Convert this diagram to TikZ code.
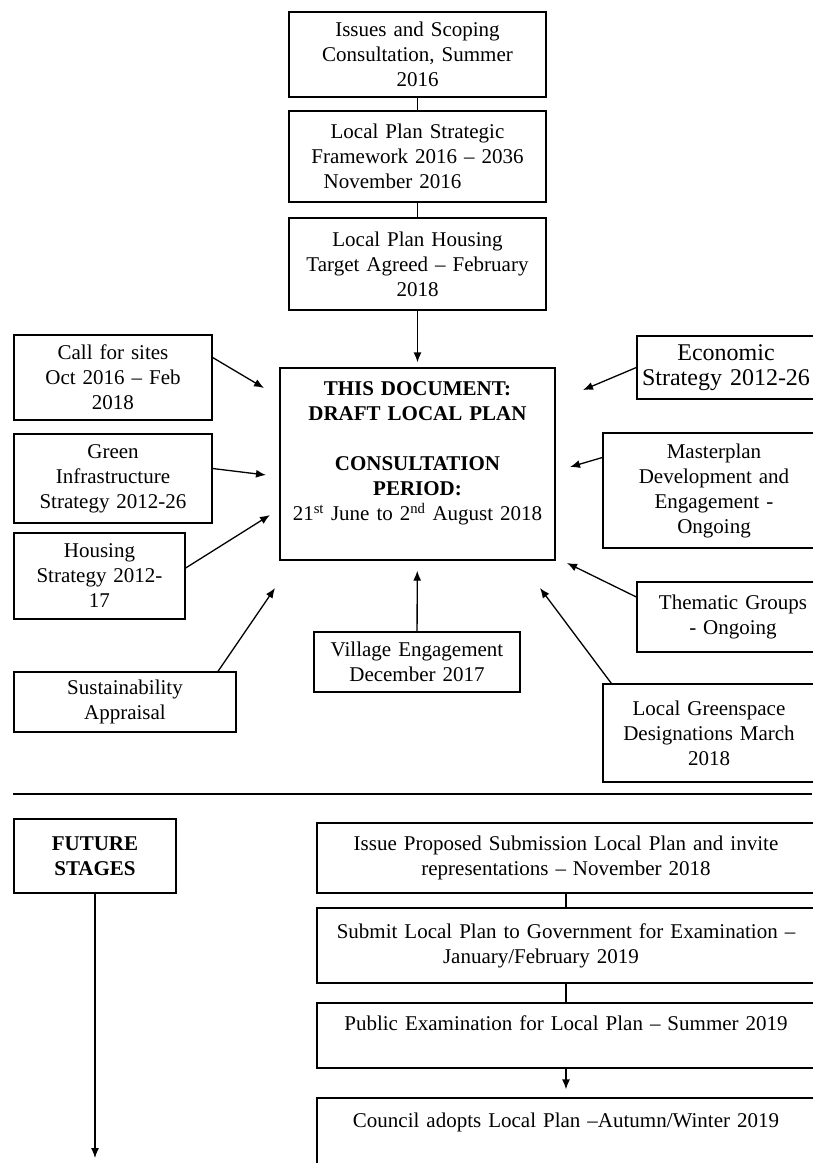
\documentclass[tikz,border=0pt]{standalone}
\usepackage{fontspec}
\setmainfont{Liberation Serif}
\usetikzlibrary{arrows.meta}
\tikzset{
  stagebox/.style = {draw, line width=1.3pt, align=center, inner sep=2pt,
                     font=\fontsize{21}{25}\selectfont},
  larrow/.style   = {line width=1.3pt, -{Latex[length=10pt,width=8pt]}},
  link/.style     = {line width=1.3pt}
}
\begin{document}
\begin{tikzpicture}[x=1pt, y=-1pt]
    \useasboundingbox (0,0) rectangle (812,1163);

    % stages so far
    \node[stagebox, text width=253pt, minimum height=85pt] (issues)    at (417.5,54.5)  {Issues and Scoping\\Consultation, Summer\\2016};
    \node[stagebox, text width=253pt, minimum height=91pt] (framework) at (417.5,156.5) {Local Plan Strategic\\Framework 2016 -- 2036\\November 2016\hspace{50pt}\null};
    \node[stagebox, text width=253pt, minimum height=92pt] (target)    at (417.5,264)   {Local Plan Housing\\Target Agreed -- February\\2018};
    \node[stagebox, text width=271pt, minimum height=192pt] (main)     at (417.5,464)   {\textbf{THIS DOCUMENT:}\\\textbf{DRAFT LOCAL PLAN}\\[25pt]\textbf{CONSULTATION}\\\textbf{PERIOD:}\\21\textsuperscript{st} June to 2\textsuperscript{nd} August 2018\\\mbox{}};

    % inputs on the left
    \node[stagebox, text width=194pt, minimum height=85pt] (sites)     at (113,377.5)   {Call for sites\\Oct 2016 -- Feb\\2018};
    \node[stagebox, text width=194pt, minimum height=89pt] (greeninf)  at (113,478.5)   {Green\\Infrastructure\\Strategy 2012-26};
    \node[stagebox, text width=167pt, minimum height=86pt] (housing)   at (99.5,576)    {Housing\\Strategy 2012-\\17};
    \node[stagebox, text width=218pt, minimum height=60pt] (sustain)   at (125,702)     {Sustainability\\Appraisal};
    \node[stagebox, text width=202pt, minimum height=60pt] (village)   at (417,662)     {Village Engagement\\December 2017};

    % inputs on the right
    \node[stagebox, text width=174pt, minimum height=63pt,
          font=\fontsize{24}{25}\selectfont]             (economic)  at (726,367.5)   {Economic\\Strategy 2012-26};
    \node[stagebox, text width=218pt, minimum height=115pt] (master)   at (714,490.5)   {Masterplan\\Development and\\Engagement -\\Ongoing};
    \node[stagebox, text width=188pt, minimum height=70pt] (thematic)  at (733,617)     {Thematic Groups\\- Ongoing};
    \node[stagebox, text width=208pt, minimum height=98pt] (greenspace) at (709,733)    {Local Greenspace\\Designations March\\2018};

    \coordinate (sitesTip)      at (264,388);
    \coordinate (greeninfTip)   at (266,475);
    \coordinate (housingTip)    at (270,515);
    \coordinate (sustainTip)    at (275,588);
    \coordinate (economicTip)   at (583,390);
    \coordinate (masterTip)     at (570,467);
    \coordinate (thematicTip)   at (567,563);
    \coordinate (greenspaceTip) at (540,588);

    \draw[link] (issues) -- (framework);
    \draw[link] (framework) -- (target);
    \draw[larrow, shorten >=5pt] (target) -- (main);
    \draw[larrow, shorten >=10pt] (village) -- (main);

    \draw[larrow] ([yshift=20pt]sites.east)       -- (sitesTip);
    \draw[larrow] ([yshift=10pt]greeninf.east)    -- (greeninfTip);
    \draw[larrow] ([yshift=8pt]housing.east)      -- (housingTip);
    \draw[larrow] ([xshift=93pt]sustain.north)    -- (sustainTip);
    \draw[larrow] (economic.west)                 -- (economicTip);
    \draw[larrow] ([yshift=33pt]master.west)      -- (masterTip);
    \draw[larrow] ([yshift=20pt]thematic.west)    -- (thematicTip);
    \draw[larrow] ([xshift=9pt]greenspace.north west) -- (greenspaceTip);

    % divider
    \draw[link] (13,794) -- (812,794);

    % future stages
    \node[stagebox, text width=158pt, minimum height=74pt] (future)    at (95,856)      {\textbf{FUTURE}\\\textbf{STAGES}};
    \node[stagebox, text width=494pt, minimum height=70pt] (submission) at (566,858)    {Issue Proposed Submission Local Plan and invite\\representations -- November 2018};
    \node[stagebox, text width=494pt, minimum height=75pt] (submit)    at (566,945.5)   {Submit Local Plan to Government for Examination --\\January/February 2019\hspace{50pt}\null};
    \node[stagebox, text width=494pt, minimum height=65pt] (exam)      at (566,1035.5)  {Public Examination for Local Plan -- Summer 2019\\\mbox{}};
    \node[stagebox, text width=494pt, minimum height=69pt] (adopt)     at (566,1132.5)  {Council adopts Local Plan --Autumn/Winter 2019\\\mbox{}};

    \coordinate (futureEnd) at (95,1158);

    \draw[larrow] (future) -- (futureEnd);
    \draw[link] (submission) -- (submit);
    \draw[link] (submit) -- (exam);
    \draw[larrow, shorten >=8pt] (exam) -- (adopt);
\end{tikzpicture}
\end{document}
